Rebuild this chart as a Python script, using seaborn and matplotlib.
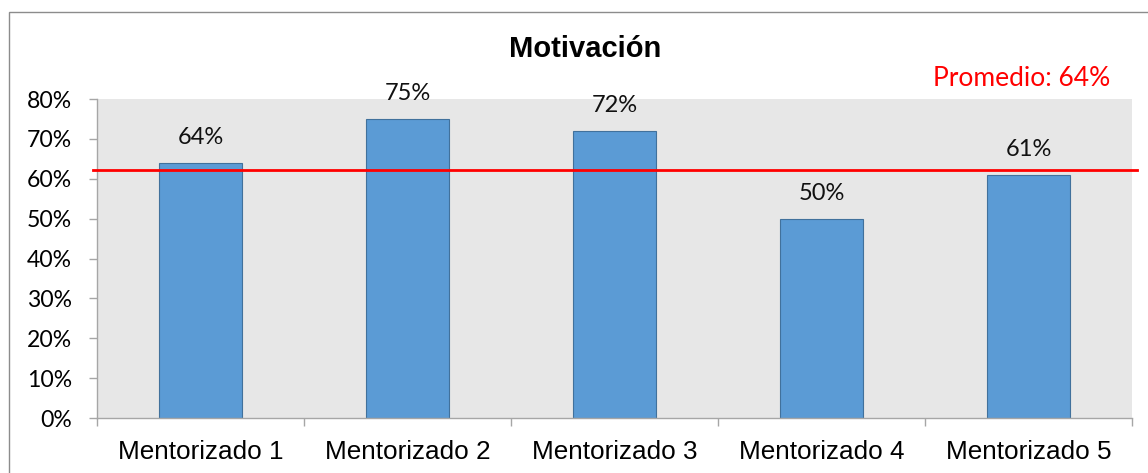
import matplotlib.pyplot as plt
import seaborn as sns
from matplotlib.patches import Rectangle
from matplotlib.ticker import PercentFormatter, FixedLocator

# Data
categorias = ['Mentorizado 1', 'Mentorizado 2', 'Mentorizado 3', 'Mentorizado 4', 'Mentorizado 5']
valores = [64, 75, 72, 50, 61]
promedio_texto = 64
promedio_linea = 62.2
titulo = 'Motivación'

# Create figure and plot
fig = plt.figure(figsize=(11.48, 4.73), dpi=100)
ax = fig.add_axes([97 / 1148, 55 / 473, 1035 / 1148, 319 / 473])
ax.set_facecolor('#e7e7e7')

sns.barplot(x=categorias, y=valores, color='#5b9bd5', saturation=1, width=0.4,
            edgecolor='#41719c', linewidth=0.8, ax=ax)

ax.set_ylim(0, 80)
ax.set_xlim(-0.5, len(categorias) - 0.5)
ax.yaxis.set_major_formatter(PercentFormatter(decimals=0))
ax.set_yticks(range(0, 81, 10))

# Data labels
for i, v in enumerate(valores):
    ax.annotate(f'{v}%', (i, v), xytext=(0, 18), textcoords='offset points',
                ha='center', va='center', fontsize=17, family='Lato', color='#111111')

# Average line
ax.axhline(promedio_linea, xmin=-0.004, xmax=1.005, color='#ff0000', linewidth=2, clip_on=False, zorder=5)

# Axis styling
for side in ['top', 'right']:
    ax.spines[side].set_visible(False)
for side in ['left', 'bottom']:
    ax.spines[side].set_color('#a6a6a6')
    ax.spines[side].set_linewidth(1)

ax.tick_params(axis='y', length=6, width=1, color='#a6a6a6', pad=12, labelsize=16.6)
for lab in ax.get_yticklabels():
    lab.set_family('Lato')
ax.tick_params(axis='x', which='major', length=0, pad=16, labelsize=18.8)
for lab in ax.get_xticklabels():
    lab.set_family('Liberation Sans')
ax.xaxis.set_minor_locator(FixedLocator([i - 0.5 for i in range(len(categorias) + 1)]))
ax.tick_params(axis='x', which='minor', length=6, width=1, color='#a6a6a6')
ax.set_xlabel('')
ax.set_ylabel('')

# Title and average text
fig.text(585 / 1148, 1 - 49 / 473, titulo, ha='center', va='center',
         fontsize=21, fontweight='bold', family='Liberation Sans')
fig.text(1110 / 1148, 1 - 78 / 473, f'Promedio: {promedio_texto}%', ha='right', va='center',
         fontsize=19, family='Lato', color='#ff0000')

# Outer chart border
fig.patches.append(Rectangle((9 / 1148, -0.1), 1.2, 1.1 - 12 / 473, transform=fig.transFigure,
                             fill=False, edgecolor='#8c8c8c', linewidth=1))

plt.savefig('out.png', dpi=100)
